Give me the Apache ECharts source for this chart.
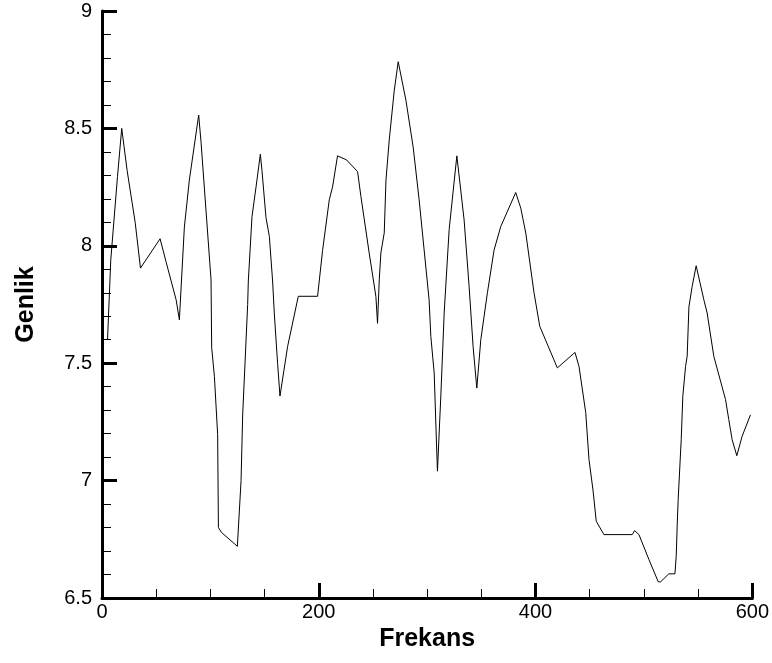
<!DOCTYPE html>
<html>
<head>
<meta charset="utf-8">
<script src="https://cdn.jsdelivr.net/npm/echarts@6/dist/echarts.min.js"></script>
<style>
html,body{margin:0;padding:0;background:#fff;}
#chart{width:772px;height:663px;}
</style>
</head>
<body>
<div id="chart"></div>
<script>
const frekans = [5.1, 8.1, 14.3, 18.2, 23.2, 30.6, 35.5, 53.6, 59.2, 68.4, 71.4, 76, 80.6, 89.2, 91.4, 100.6, 101.2, 103.7, 106.7, 107.4, 110.1, 124.9,
  128.3, 129.8, 134.4, 135, 138.4, 142.1, 146.1, 147.6, 151.3, 154.4, 157.4, 159, 162, 164.2, 171.2, 181.1, 198.9, 203.5, 209.7, 212.7, 217.3,
  225.6, 235.8, 238.9, 246.5, 252.7, 254.2, 255.8, 257.3, 260.4, 262, 265, 269.6, 273.3, 280.4, 287.1, 292.6, 301.8, 303.4, 306.5, 308.6, 309.5,
  312.6, 315.7, 320.3, 327.4, 334.1, 338.7, 342.4, 345.8, 349.5, 355.6, 361.8, 367.9, 381.7, 386.4, 391, 398.6, 403.9, 420.1, 436.4, 440.1,
  446.3, 449.3, 453, 456, 463.1, 489.2, 491.4, 495.4, 504.6, 513.2, 515.4, 523, 528.6, 529.8, 530.7, 531.6, 534.4, 535.9, 538.4, 539.9, 541.5,
  544.5, 548.2, 555.3, 558.3, 564.5, 575.3, 578.3, 581.4, 585.7, 590.6, 598.3];
const genlik = [7.60, 7.94, 8.295, 8.50, 8.32, 8.10, 7.905, 8.03, 7.93, 7.77, 7.685, 8.08, 8.28, 8.557, 8.44, 7.855, 7.566, 7.444, 7.196, 6.80, 6.78, 6.72,
  7.00, 7.28, 7.75, 7.85, 8.125, 8.25, 8.39, 8.32, 8.12, 8.04, 7.85, 7.71, 7.50, 7.36, 7.57, 7.785, 7.785, 7.98, 8.196, 8.25, 8.383,
  8.366, 8.316, 8.21, 7.97, 7.784, 7.67, 7.855, 7.97, 8.055, 8.28, 8.45, 8.66, 8.784, 8.62, 8.42, 8.196, 7.77, 7.614, 7.458, 7.16, 7.04,
  7.36, 7.714, 8.07, 8.383, 8.11, 7.827, 7.57, 7.394, 7.60, 7.80, 7.983, 8.082, 8.227, 8.16, 8.054, 7.80, 7.657, 7.48, 7.546, 7.486,
  7.29, 7.09, 6.96, 6.827, 6.77, 6.77, 6.787, 6.77, 6.664, 6.569, 6.569, 6.603, 6.603, 6.678, 6.81, 6.92, 7.174, 7.36, 7.486, 7.53, 7.74,
  7.827, 7.915, 7.77, 7.714, 7.529, 7.345, 7.26, 7.174, 7.106, 7.189, 7.28];
const xName = 'Frekans';
const yName = 'Genlik';

const chart = echarts.init(document.getElementById('chart'), null, {renderer: 'canvas'});
const font = 'Liberation Sans, Arial, sans-serif';
chart.setOption({
  animation: false,
  backgroundColor: '#fff',
  grid: {left: 102, right: 19, top: 11, bottom: 65},
  xAxis: {
    type: 'value', min: 0, max: 600, interval: 200,
    name: xName, nameLocation: 'middle', nameGap: 20,
    nameTextStyle: {fontFamily: font, fontSize: 25, fontWeight: 'bold', color: '#000'},
    axisLine: {show: true, onZero: false, lineStyle: {color: '#000', width: 3}},
    axisTick: {show: true, inside: true, length: 15, lineStyle: {color: '#000', width: 3}},
    minorTick: {show: true, splitNumber: 4, length: 9, lineStyle: {color: '#000', width: 1}},
    axisLabel: {fontFamily: font, fontSize: 20, color: '#000', margin: 4},
    splitLine: {show: false}
  },
  yAxis: {
    type: 'value', min: 6.5, max: 9, interval: 0.5,
    name: yName, nameLocation: 'middle', nameGap: 63, nameRotate: 90,
    nameTextStyle: {fontFamily: font, fontSize: 25, fontWeight: 'bold', color: '#000'},
    axisLine: {show: true, onZero: false, lineStyle: {color: '#000', width: 3}},
    axisTick: {show: true, inside: true, length: 15, lineStyle: {color: '#000', width: 3}},
    minorTick: {show: true, splitNumber: 5, length: 9, lineStyle: {color: '#000', width: 1}},
    axisLabel: {fontFamily: font, fontSize: 20, color: '#000', margin: 10},
    splitLine: {show: false}
  },
  series: [{
    type: 'line',
    data: frekans.map((f, i) => [f, genlik[i]]),
    showSymbol: false,
    lineStyle: {color: '#000', width: 1},
    itemStyle: {color: '#000'}
  }]
});
</script>
</body>
</html>
